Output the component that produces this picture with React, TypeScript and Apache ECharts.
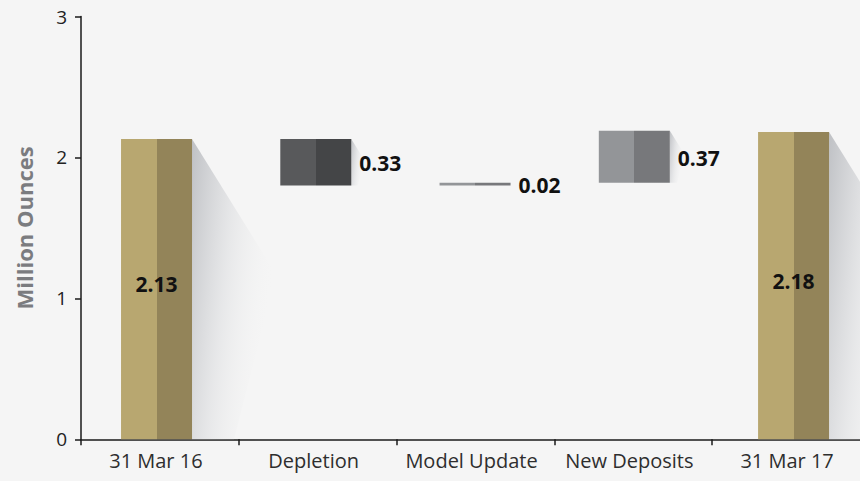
import React, { useEffect, useRef } from 'react';
import * as echarts from 'echarts';

const categories = ['31 Mar 16', 'Depletion', 'Model Update', 'New Deposits', '31 Mar 17'];
const changes = [2.13, -0.33, 0.02, 0.37, 2.18];
const kinds = ['total', 'decrease', 'increase', 'increase', 'total'];
const yTickMin = 0;
const yTickMax = 3;
const yTickStep = 1;

const palette: Record<string, [string, string]> = {
  total: ['#b8a770', '#938459'],
  decrease: ['#58595b', '#444547'],
  increase: ['#939598', '#77787b'],
};

const BAR_W = 71;

function computeSteps() {
  let running = 0;
  return changes.map((v, i) => {
    const k = kinds[i];
    let base = 0;
    let top = 0;
    if (k === 'total') {
      base = 0;
      top = v;
      running = v;
    } else if (v < 0) {
      top = running;
      base = running + v;
      running = base;
    } else {
      base = running;
      top = running + v;
      running = top;
    }
    return { base: +base.toFixed(4), top: +top.toFixed(4) };
  });
}

function twoTone(k: string) {
  const [l, d] = palette[k];
  return {
    type: 'linear',
    x: 0,
    y: 0,
    x2: 1,
    y2: 0,
    colorStops: [
      { offset: 0, color: l },
      { offset: 0.5, color: l },
      { offset: 0.5, color: d },
      { offset: 1, color: d },
    ],
  };
}

export default function App() {
  const ref = useRef<HTMLDivElement>(null);

  useEffect(() => {
    if (!ref.current) return;
    const chart = echarts.init(ref.current, null, { renderer: 'svg' });
    const steps = computeSteps();
    const font = "'Open Sans', 'Noto Sans', sans-serif";

    const gridTop = 16.5;
    const gridHeight = 422.8;

    const option: any = {
      animation: false,
      backgroundColor: '#f5f5f5',
      grid: [
        {
          left: 81, width: 789, top: gridTop, height: gridHeight,
          containLabel: false, outerBoundsMode: 'none',
        },
        {
          left: 76.9, width: 796.3, top: gridTop, height: gridHeight,
          containLabel: false, outerBoundsMode: 'none',
        },
      ],
      xAxis: [
        {
          type: 'category',
          gridIndex: 0,
          data: categories,
          boundaryGap: true,
          axisLine: { show: true, lineStyle: { color: '#1a1a1a', width: 1.5 } },
          axisTick: { show: true, length: 6, lineStyle: { color: '#1a1a1a', width: 1.5 } },
          axisLabel: {
            color: '#2e2e2e',
            fontFamily: font,
            fontWeight: 'normal',
            fontSize: 20,
            margin: 11,
            padding: [0, 8, 0, 0],
            interval: 0,
          },
        },
        {
          type: 'category',
          gridIndex: 1,
          data: categories,
          show: false,
        },
      ],
      yAxis: [
        {
          type: 'value',
          gridIndex: 0,
          min: yTickMin,
          max: yTickMax,
          interval: yTickStep,
          name: 'Million Ounces',
          nameLocation: 'middle',
          nameRotate: 90,
          nameGap: 46,
          nameTextStyle: {
            color: '#7b7c7f',
            fontFamily: font,
            fontWeight: 'bold',
            fontSize: 22,
          },
          splitLine: { show: false },
          axisLine: { show: true, lineStyle: { color: '#1a1a1a', width: 1.5 } },
          axisTick: { show: true, length: 6, lineStyle: { color: '#1a1a1a', width: 1.5 } },
          axisLabel: {
            color: '#222222',
            fontFamily: font,
            fontWeight: 'normal',
            fontSize: 19,
            margin: 14,
          },
        },
        {
          type: 'value',
          gridIndex: 1,
          min: yTickMin,
          max: yTickMax,
          interval: yTickStep,
          show: false,
          splitLine: { show: false },
        },
      ],
      series: [
        {
          type: 'custom',
          xAxisIndex: 1,
          yAxisIndex: 1,
          z: 1,
          silent: true,
          clip: false,
          data: steps.map((s, i) => [i, s.base, s.top]),
          encode: { x: 0, y: [1, 2] },
          renderItem: (params: any, api: any) => {
            const i = api.value(0);
            const pTop = api.coord([i, api.value(2)]);
            const pBase = api.coord([i, api.value(1)]);
            const xr = pTop[0] + BAR_W / 2;
            const h = pBase[1] - pTop[1];
            if (h < 10) return { type: 'group', children: [] };
            return {
              type: 'polygon',
              shape: {
                points: [
                  [xr, pTop[1]],
                  [xr + 0.28 * h, pTop[1] + 0.45 * h],
                  [xr + 0.14 * h, pBase[1]],
                  [xr, pBase[1]],
                ],
              },
              style: {
                fill: {
                  type: 'linear',
                  x: 0,
                  y: 0,
                  x2: 1,
                  y2: 0.4,
                  colorStops: [
                    { offset: 0, color: 'rgba(188,190,194,0.95)' },
                    { offset: 0.5, color: 'rgba(225,226,228,0.7)' },
                    { offset: 1, color: 'rgba(245,245,245,0)' },
                  ],
                },
              },
            };
          },
        },
        {
          type: 'bar',
          name: 'base',
          xAxisIndex: 1,
          yAxisIndex: 1,
          stack: 'wf',
          barWidth: BAR_W,
          silent: true,
          itemStyle: { color: 'rgba(0,0,0,0)' },
          data: steps.map((s) => s.base),
          z: 2,
        },
        {
          type: 'bar',
          name: 'value',
          xAxisIndex: 1,
          yAxisIndex: 1,
          stack: 'wf',
          barWidth: BAR_W,
          z: 3,
          data: steps.map((s, i) => {
            const k = kinds[i];
            const isTotal = k === 'total';
            return {
              value: +(s.top - s.base).toFixed(4),
              itemStyle: { color: twoTone(k) },
              label: {
                show: true,
                position: isTotal ? 'inside' : 'right',
                distance: 8,
                offset: isTotal ? [0, -5] : [0, 1],
                formatter: () => Math.abs(changes[i]).toFixed(2),
                color: '#111111',
                fontFamily: font,
                fontWeight: 'bold',
                fontSize: 21,
              },
            };
          }),
        },
      ],
    };

    chart.setOption(option);
    return () => {
      chart.dispose();
    };
  }, []);

  return (
    <div
      ref={ref}
      style={{ position: 'fixed', left: 0, top: 0, width: 860, height: 481 }}
    />
  );
}
